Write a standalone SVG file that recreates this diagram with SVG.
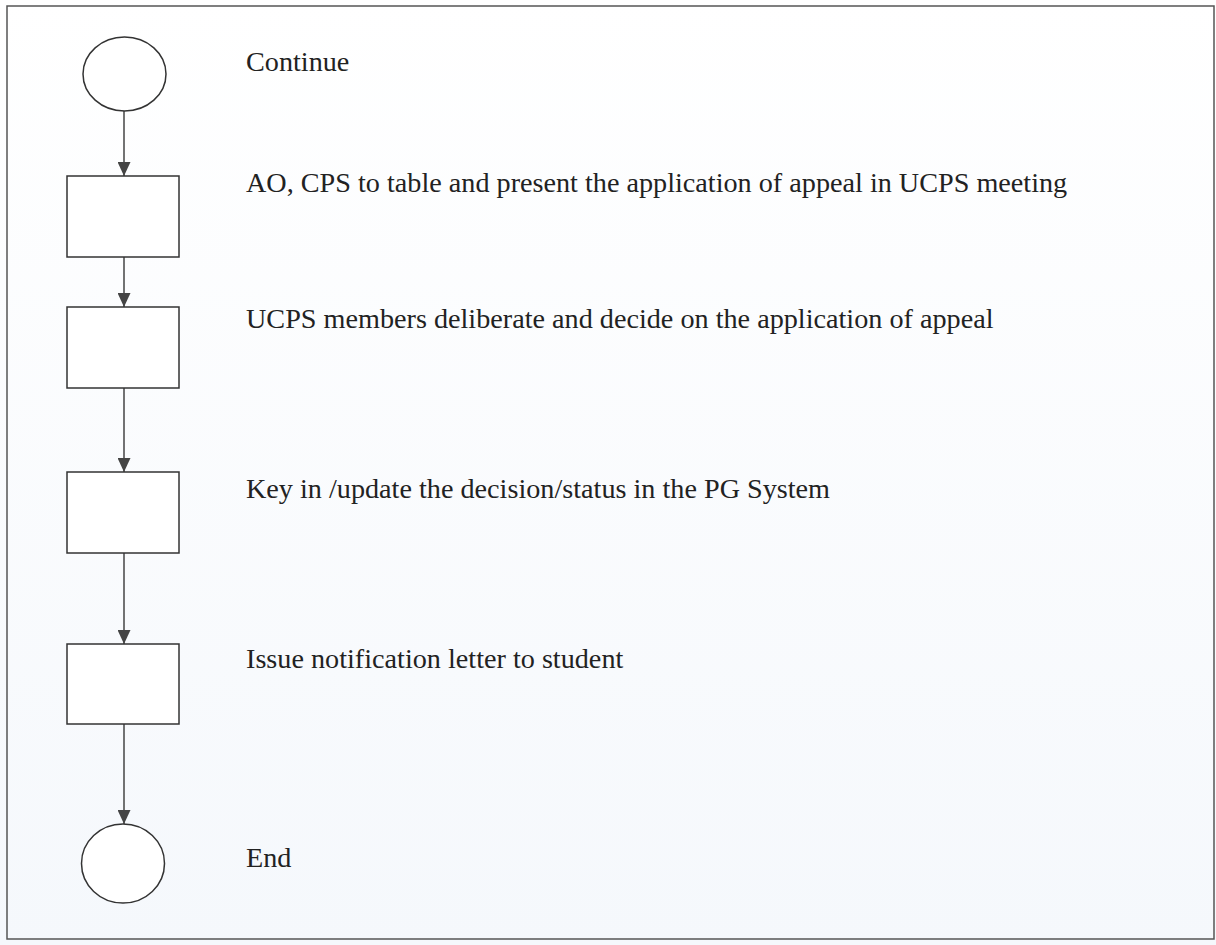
<svg xmlns="http://www.w3.org/2000/svg" width="1216" height="945" viewBox="0 0 1216 945">
<defs>
<linearGradient id="bg" x1="0" y1="0" x2="0" y2="1">
<stop offset="0" stop-color="#ffffff"/>
<stop offset="1" stop-color="#f5f8fc"/>
</linearGradient>
<marker id="arr" viewBox="0 0 14 13" refX="14" refY="6.5" markerWidth="14" markerHeight="13" markerUnits="userSpaceOnUse" orient="auto">
<path d="M0,0 L14,6.5 L0,13 Z" fill="#444"/>
</marker>
</defs>
<style>
.shape{fill:#fff;stroke:#333;stroke-width:1.5}
.conn{stroke:#444;stroke-width:1.5;fill:none}
text{font-family:'Liberation Serif','DejaVu Serif',serif;font-size:28.2px;fill:#222}
</style>
<rect x="0" y="0" width="1216" height="945" fill="url(#bg)"/>
<rect x="7" y="6" width="1207" height="933" fill="none" stroke="#555" stroke-width="1.5"/>
<g id="connectors">
<line class="conn" x1="124" y1="111" x2="124" y2="176" marker-end="url(#arr)"/>
<line class="conn" x1="124" y1="257" x2="124" y2="307" marker-end="url(#arr)"/>
<line class="conn" x1="124" y1="388" x2="124" y2="472" marker-end="url(#arr)"/>
<line class="conn" x1="124" y1="553" x2="124" y2="644" marker-end="url(#arr)"/>
<line class="conn" x1="124" y1="724" x2="124" y2="824" marker-end="url(#arr)"/>
</g>
<g id="start">
<ellipse class="shape" cx="124.5" cy="74" rx="41.5" ry="37"/>
<text x="246" y="71" font-family="Liberation Serif, serif">Continue</text>
</g>
<g id="step1">
<rect class="shape" x="67" y="176" width="112" height="81"/>
<text x="246" y="192" font-family="Liberation Serif, serif">AO, CPS to table and present the application of appeal in UCPS meeting</text>
</g>
<g id="step2">
<rect class="shape" x="67" y="307" width="112" height="81"/>
<text x="246" y="328" font-family="Liberation Serif, serif">UCPS members deliberate and decide on the application of appeal</text>
</g>
<g id="step3">
<rect class="shape" x="67" y="472" width="112" height="81"/>
<text x="246" y="498" font-family="Liberation Serif, serif">Key in /update the decision/status in the PG System</text>
</g>
<g id="step4">
<rect class="shape" x="67" y="644" width="112" height="80"/>
<text x="246" y="668" font-family="Liberation Serif, serif">Issue notification letter to student</text>
</g>
<g id="end">
<ellipse class="shape" cx="123" cy="863.5" rx="41.5" ry="39.5"/>
<text x="246" y="867" font-family="Liberation Serif, serif">End</text>
</g>
</svg>
